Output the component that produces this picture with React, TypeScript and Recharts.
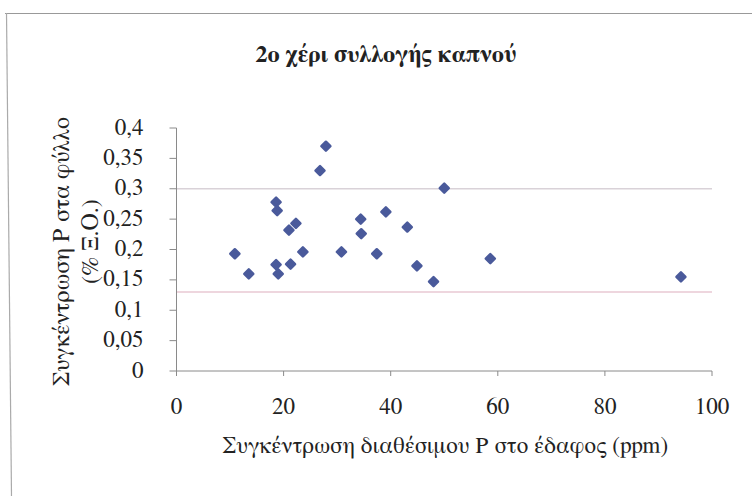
import React from 'react';
import { ScatterChart, Scatter, XAxis, YAxis, ReferenceLine, Label } from 'recharts';

const title = '2ο χέρι συλλογής καπνού';
const xTitle = 'Συγκέντρωση διαθέσιμου Ρ στο έδαφος (ppm)';
const yTitleLine1 = 'Συγκέντρωση Ρ στα φύλλο';
const yTitleLine2 = '(% Ξ.Ο.)';

const soilP = [10.9, 13.5, 18.6, 18.8, 18.6, 19.0, 21.0, 22.3, 21.3, 23.6, 26.8, 27.9, 30.8, 34.4, 34.5, 37.4, 39.1, 43.1, 44.9, 48.0, 50.0, 58.6, 94.2];
const leafP = [0.193, 0.16, 0.278, 0.264, 0.175, 0.16, 0.232, 0.243, 0.176, 0.196, 0.33, 0.37, 0.196, 0.25, 0.226, 0.193, 0.262, 0.237, 0.173, 0.147, 0.301, 0.185, 0.155];

const xTicks = [0, 20, 40, 60, 80, 100];
const yTicks = [0, 0.05, 0.1, 0.15, 0.2, 0.25, 0.3, 0.35, 0.4];
const yTickLabels = ['0', '0,05', '0,1', '0,15', '0,2', '0,25', '0,3', '0,35', '0,4'];
const refLevels = [0.3, 0.13];
const refColors = ['#d9d2d8', '#e8c9d3'];

const data = soilP.map((x, i) => ({ x, y: leafP[i] }));

const FONT = 'FreeSerif, Liberation Serif, serif';
const AXIS = '#8a8a8a';
const MARK = '#4a5a9b';
const TXT = '#222';

const Diamond = (props: any) => {
  const { cx, cy } = props;
  const r = 4.5;
  return (
    <path
      d={`M${cx},${cy - r}L${cx + r},${cy}L${cx},${cy + r}L${cx - r},${cy}Z`}
      fill={MARK}
      stroke={MARK}
      strokeWidth={2.5}
      strokeLinejoin="round"
    />
  );
};

const yFormat = (v: number) => {
  const i = yTicks.findIndex((t) => Math.abs(t - v) < 1e-9);
  return i >= 0 ? yTickLabels[i] : String(v);
};

const tickStyle = { fontFamily: FONT, fontSize: 23, fill: TXT };
const titleStyle = { fontFamily: FONT, fontSize: 24, fill: TXT };

const YTick = (props: any) => {
  const { x, y, payload } = props;
  return (
    <text x={x - 12} y={y} textAnchor="end" dominantBaseline="central" style={tickStyle}>
      {yFormat(payload.value)}
    </text>
  );
};

const XTick = (props: any) => {
  const { x, y, payload } = props;
  return (
    <text x={x} y={y + 9} textAnchor="middle" dominantBaseline="central" style={tickStyle}>
      {payload.value}
    </text>
  );
};

const YTitle = (props: any) => {
  const vb = props.viewBox || {};
  const cy = vb.y + vb.height / 2;
  return (
    <g>
      <text x={62} y={cy + 2} transform={`rotate(-90, 62, ${cy + 2})`} textAnchor="middle" dominantBaseline="central" style={titleStyle}>
        {yTitleLine1}
      </text>
      <text x={91} y={cy - 8} transform={`rotate(-90, 91, ${cy - 8})`} textAnchor="middle" dominantBaseline="central" style={titleStyle}>
        {yTitleLine2}
      </text>
    </g>
  );
};

const XTitle = (props: any) => {
  const vb = props.viewBox || {};
  const cx = vb.x + vb.width / 2;
  return (
    <text x={cx + 1} y={446} textAnchor="middle" dominantBaseline="central" style={{ ...titleStyle, fontSize: 23 }}>
      {xTitle}
    </text>
  );
};

export default function App() {
  return (
    <div style={{ position: 'absolute', left: 0, top: 0, width: 752, height: 496, background: '#fff' }}>
      <ScatterChart width={752} height={496} margin={{ top: 128, right: 40, bottom: 0, left: 0.5 }}>
        <XAxis
          type="number"
          dataKey="x"
          domain={[0, 100]}
          ticks={xTicks}
          interval={0}
          height={125}
          stroke={AXIS}
          tickSize={5}
          tickMargin={22}
          tick={<XTick />}
          axisLine={{ stroke: AXIS }}
          tickLine={{ stroke: AXIS }}
        >
          <Label content={<XTitle />} />
        </XAxis>
        <YAxis
          type="number"
          dataKey="y"
          domain={[0, 0.4]}
          ticks={yTicks}
          interval={0}
          width={176}
          stroke={AXIS}
          tickSize={7}
          tickMargin={14}
          tick={<YTick />}
          axisLine={{ stroke: AXIS }}
          tickLine={{ stroke: AXIS }}
        >
          <Label content={<YTitle />} />
        </YAxis>
        {refLevels.map((v, i) => (
          <ReferenceLine key={i} y={v} stroke={refColors[i]} strokeWidth={1.5} ifOverflow="extendDomain" />
        ))}
        <Scatter data={data} shape={<Diamond />} isAnimationActive={false} />
      </ScatterChart>
      <svg width={752} height={496} style={{ position: 'absolute', left: 0, top: 0, pointerEvents: 'none' }}>
        <line x1={5} y1={13.5} x2={752} y2={13.5} stroke="#999" strokeWidth={1.2} />
        <line x1={6.5} y1={13} x2={11.5} y2={496} stroke="#aaa" strokeWidth={1.2} />
        <text x={386} y={55} textAnchor="middle" dominantBaseline="central" style={{ ...titleStyle, fontSize: 24, fontWeight: 'bold' }}>
          {title}
        </text>
      </svg>
    </div>
  );
}
